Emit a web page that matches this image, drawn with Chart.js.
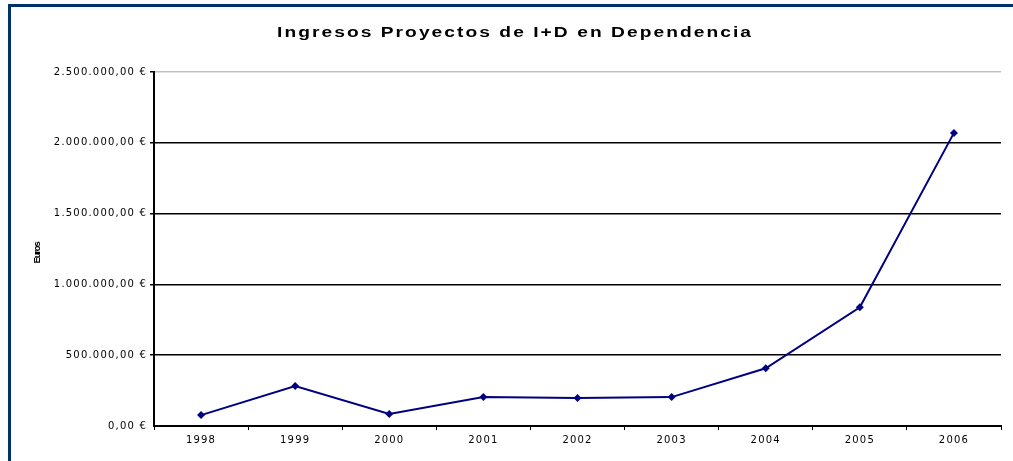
<!DOCTYPE html>
<html>
<head>
<meta charset="utf-8">
<script src="https://cdn.jsdelivr.net/npm/chart.js@4"></script>
<style>
  html, body { margin: 0; padding: 0; background: #fff; overflow: hidden; }
  #wrap { position: relative; width: 1013px; height: 461px; }
  #frame { position: absolute; left: 8px; top: 4px; width: 1100px; height: 600px;
           border: 3px solid #003366; box-sizing: border-box; }
  canvas { position: absolute; left: 0; top: 0; }
</style>
</head>
<body>
<div id="wrap">
  <div id="frame"></div>
  <canvas id="ingresos_chart" width="1013" height="461"></canvas>
</div>
<script>
const years = ['1998', '1999', '2000', '2001', '2002', '2003', '2004', '2005', '2006'];
const ingresos = [77000, 282000, 85000, 204000, 197000, 204000, 408000, 838000, 2070000];
const yTicks = [0, 500000, 1000000, 1500000, 2000000, 2500000];
const chartTitle = 'Ingresos Proyectos de I+D en Dependencia';
const axisTitle = 'Euros';

const FONT = 'Arial, "Liberation Sans", sans-serif';
const TICK_FONT = '"DejaVu Sans", Arial, sans-serif';

function euros(v) {
  const ent = Math.round(v).toString().replace(/\B(?=(\d{3})+(?!\d))/g, '.');
  return ent + ',00 €';
}

// wide spreadsheet-style lettering; title and axis name drawn by hand
const lettering = {
  id: 'lettering',
  beforeLayout(chart) { chart.ctx.letterSpacing = '1.2px'; },
  beforeDraw(chart) { chart.ctx.letterSpacing = '1.2px'; },
  afterDraw(chart) {
    const ctx = chart.ctx;
    ctx.save();
    ctx.fillStyle = '#000';
    ctx.textAlign = 'center';
    ctx.textBaseline = 'middle';

    // title stretched sideways to 476px
    ctx.save();
    ctx.letterSpacing = '1.5px';
    ctx.font = 'bold 14px ' + FONT;
    const w = ctx.measureText(chartTitle).width;
    ctx.translate(515, 33);
    ctx.scale(476 / w, 1);
    ctx.fillText(chartTitle, 0, 0);
    ctx.restore();

    ctx.letterSpacing = '-1.2px';
    ctx.font = 'bold 9.5px ' + FONT;
    ctx.translate(37, 253);
    ctx.rotate(-Math.PI / 2);
    ctx.fillText(axisTitle, 0, 0);
    ctx.restore();
  }
};

const ctx = document.getElementById('ingresos_chart').getContext('2d');

new Chart(ctx, {
  type: 'line',
  data: {
    labels: years,
    datasets: [{
      label: axisTitle,
      data: ingresos,
      borderColor: '#000080',
      backgroundColor: '#000080',
      borderWidth: 2,
      tension: 0,
      pointStyle: 'rectRot',
      pointRadius: 4,
      pointBorderWidth: 0
    }]
  },
  options: {
    responsive: false,
    animation: false,
    layout: { padding: { left: 28, right: 12, top: 72, bottom: 0 } },
    plugins: {
      legend: { display: false },
      title: { display: false },
      tooltip: { enabled: false }
    },
    scales: {
      x: {
        offset: true,
        grid: {
          offset: true,
          drawOnChartArea: false,
          color: '#000',
          tickColor: '#000',
          tickLength: 4
        },
        border: { color: '#000', width: 2 },
        ticks: {
          color: '#000',
          font: { family: TICK_FONT, size: 10 },
          padding: 4,
          maxRotation: 0
        },
        afterFit(scale) { scale.height = 35; }
      },
      y: {
        min: 0,
        max: 2500000,
        afterBuildTicks(scale) { scale.ticks = yTicks.map(v => ({ value: v })); },
        grid: {
          color: c => c.tick && c.tick.value === 2500000 ? '#c0c0c0' : '#000',
          lineWidth: c => c.tick && c.tick.value === 0 ? 0 : 1.5,
          tickColor: '#000',
          tickLength: 4
        },
        border: { color: '#000', width: 2 },
        ticks: {
          color: '#000',
          font: { family: TICK_FONT, size: 10 },
          padding: 3,
          callback: v => euros(v)
        },
        afterFit(scale) { scale.width = 126; }
      }
    }
  },
  plugins: [lettering]
});
</script>
</body>
</html>
